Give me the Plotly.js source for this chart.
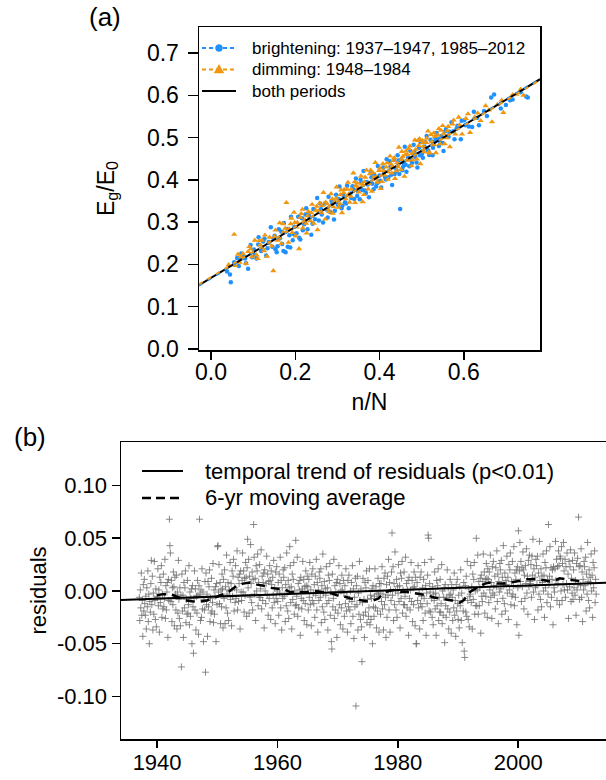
<!DOCTYPE html>
<html><head><meta charset="utf-8">
<script src="https://cdn.plot.ly/plotly-3.0.1.min.js"></script>
<style>html,body{margin:0;padding:0;background:#fff}#chart{width:606px;height:780px}</style>
</head><body><div id="chart"></div>
<script>
// ---------- panel (a): E_g/E_0 vs n/N ----------
const brightNN = [.038,.047,.055,.066,.072,.081,.088,.094,.102,.108,.113,.119,.124,.131,.137,.142,.146,.151,.156,.161,.164,.169,.173,.177,.181,.186,.19,.194,.198,.203,.207,.212,.216,.221,.226,.229,.234,.238,.243,.247,.252,.256,.261,.266,.27,.274,.279,.283,.288,.292,.297,.301,.305,.31,.314,.318,.323,.327,.331,.336,.34,.344,.349,.353,.357,.362,.366,.37,.375,.379,.383,.387,.392,.396,.4,.404,.409,.413,.417,.421,.426,.43,.434,.438,.443,.447,.449,.452,.456,.46,.464,.468,.473,.477,.481,.485,.49,.494,.498,.503,.507,.512,.516,.521,.526,.531,.536,.541,.547,.552,.558,.564,.571,.578,.585,.593,.601,.612,.624,.636,.648,.665,.672,.688,.71,.748,.752,.098,.127,.158,.182,.188,.209,.232,.259,.286,.312,.338,.355,.368,.381,.398,.411,.424,.436,.445,.458,.471,.483,.496,.509,.518,.533,.544,.556,.575,.595,.62,.062,.078,
  .105,.112,.134,.148,.153,.167,.172,.196,.218,.224,.241,.263,.277,.294,.303,.321,.333,.347,.359,.372,.386,.394,.402,.415,.428,.441,.454,.462,.476,.488,.501,.514,.527,.539,.55,.566,.583,.604,.632,.655,.7,.716,.735,.045,.069,.083];
const brightEg = [.183,.158,.205,.196,.226,.214,.190,.246,.235,.214,.264,.232,.254,.221,.253,.288,.242,.268,.229,.283,.262,.248,.298,.229,.284,.269,.313,.257,.289,.274,.313,.259,.309,.295,.333,.283,.312,.270,.331,.307,.357,.304,.331,.299,.344,.330,.360,.324,.344,.306,.365,.341,.384,.333,.364,.347,.386,.333,.368,.385,.355,.403,.373,.354,.393,.421,.375,.395,.359,.416,.391,.413,.384,.433,.410,.382,.429,.407,.449,.406,.431,.388,.447,.428,.458,.414,.331,.448,.431,.478,.419,.453,.469,.440,.483,.454,.429,.476,.489,.452,.478,.504,.468,.495,.458,.490,.511,.480,.504,.468,.520,.502,.536,.496,.528,.496,.541,.526,.561,.529,.563,.595,.602,.569,.588,.597,.595,.217,.261,.243,.242,.240,.263,.319,.344,.350,.339,.377,.400,.369,.406,.395,.419,.444,.414,.446,.439,.432,.466,.458,.489,.459,.498,.489,.515,.515,.540,.525,.215,.218,
  .222,.247,.238,.262,.236,.277,.232,.272,.281,.318,.296,.318,.311,.327,.355,.344,.357,.362,.376,.389,.378,.392,.398,.401,.412,.421,.423,.436,.447,.441,.462,.471,.476,.497,.487,.514,.521,.529,.547,.551,.577,.590,.607,.176,.214,.203];
const dimNN = [.042,.055,.068,.076,.083,.091,.097,.104,.111,.117,.122,.128,.133,.139,.144,.148,.153,.158,.163,.167,.172,.179,.184,.189,.193,.197,.201,.205,.209,.214,.218,.223,.227,.231,.236,.24,.244,.249,.253,.258,.262,.267,.271,.276,.28,.285,.289,.294,.298,.303,.307,.311,.316,.32,.325,.329,.333,.338,.342,.347,.351,.356,.36,.364,.369,.373,.377,.382,.386,.39,.395,.399,.403,.408,.412,.416,.42,.425,.429,.433,.437,.442,.446,.451,.455,.459,.463,.467,.472,.476,.48,.484,.489,.493,.497,.502,.506,.511,.515,.52,.524,.529,.534,.539,.544,.55,.555,.561,.567,.573,.58,.588,.596,.605,.615,.626,.64,.652,.667,.68,.694,.716,.735,.742,.255,.272,.291,.309,.327,.344,.363,.379,.393,.406,.418,.431,.44,.453,.466,.478,.491,.504,.517,.531,.546,.559,.229,.217,.199,.186,.171,.126,.115,.088,.064,
  .058,.071,.094,.108,.121,.136,.151,.162,.176,.191,.203,.212,.226,.238,.251,.264,.278,.288,.297,.306,.315,.323,.332,.341,.349,.358,.366,.375,.384,.392,.401,.409,.419,.427,.435,.444,.452,.461,.469,.477,.486,.495,.503,.512,.522,.53,.541,.552,.563,.576,.59,.61,.633,.66,.69,.725];
const dimEg = [.199,.271,.205,.225,.202,.242,.218,.257,.214,.246,.239,.269,.219,.264,.243,.185,.281,.257,.298,.249,.276,.346,.252,.296,.275,.323,.267,.299,.237,.320,.286,.305,.274,.325,.303,.342,.297,.328,.282,.345,.322,.370,.307,.343,.324,.367,.321,.349,.383,.335,.365,.322,.377,.355,.394,.347,.378,.416,.346,.392,.371,.409,.348,.395,.423,.378,.414,.373,.406,.441,.394,.422,.379,.438,.411,.430,.401,.456,.416,.446,.403,.440,.477,.424,.455,.408,.468,.446,.480,.433,.466,.494,.449,.481,.438,.493,.466,.488,.515,.463,.490,.511,.464,.506,.485,.528,.485,.516,.478,.532,.508,.548,.508,.545,.512,.548,.540,.575,.537,.578,.559,.601,.614,.600,.326,.347,.336,.376,.366,.386,.365,.423,.407,.396,.440,.432,.421,.467,.460,.447,.493,.479,.465,.503,.517,.499,.315,.330,.299,.284,.296,.232,.256,.230,.224,
  .197,.218,.236,.222,.257,.249,.266,.262,.285,.309,.288,.311,.297,.322,.337,.339,.331,.355,.356,.344,.369,.378,.361,.395,.382,.390,.406,.391,.417,.402,.428,.421,.419,.437,.452,.431,.448,.459,.474,.462,.472,.497,.488,.498,.507,.483,.521,.509,.526,.541,.530,.556,.558,.565,.588,.602];
// fitted regression lines (end points read at the panel edges)
const fitNN = [-0.0285, 0.781];
const fitBoth = [0.151, 0.638];
const fitBright = [0.150, 0.639];
const fitDim = [0.153, 0.636];
const legendA = ['brightening: 1937\u20131947, 1985\u20132012', 'dimming: 1948\u20131984', 'both periods'];

// ---------- panel (b): residuals vs time ----------
const resYears = [];
for (let y = 1937; y <= 2012; y++) resYears.push(y);
const monthMid = [0.5,1.5,2.5,3.5,4.5,5.5,6.5,7.5,8.5,9.5,10.5,11.5];
const residuals = [
[-.006,-.028,.001,-.016,.017,-.023,-.009,-.043,.006,-.019,.011,-.012],
[-.023,-.005,-.036,.003,-.015,.019,-.029,-.003,-.050,-.010,-.020,.007],
[.029,-.013,.014,-.037,-.002,-.022,.028,-.009,-.027,.002,-.034,-.005],
[-.006,.021,-.014,.001,-.039,.013,-.011,.008,.024,-.025,-.003,-.017],
[.016,-.015,-.007,.030,-.026,.005,-.018,-.001,.008,-.044,.011,-.009],
[.068,.043,.036,-.010,.010,-.029,.003,-.013,.018,.004,-.033,.013],
[-.003,-.018,.015,-.036,-.001,-.021,.029,-.008,-.026,.003,-.033,-.004],
[-.072,.016,-.019,-.004,-.044,.008,-.016,.003,.019,-.030,-.008,-.022],
[.010,-.021,-.013,.024,-.032,-.001,-.024,-.007,.002,-.050,.005,-.015],
[-.059,-.007,.019,-.018,.002,-.037,-.005,-.021,.010,-.004,-.041,.005],
[.068,-.003,-.028,.001,-.025,.021,-.017,-.001,-.048,-.008,-.018,.009],
[-.077,.017,-.013,-.003,-.043,.009,-.015,.004,.020,-.029,-.007,-.021],
[.012,-.019,-.011,.026,-.030,.001,-.022,-.005,.004,-.048,.007,-.013],
[.042,.043,-.001,.025,-.012,.008,-.031,.001,-.015,.016,.002,-.035],
[.011,-.007,.020,-.031,.004,-.016,.034,-.003,-.021,.008,-.028,.001],
[.000,.027,-.008,.007,-.033,.019,-.005,.014,.030,-.019,.003,-.011],
[.024,-.007,.001,.038,-.018,.013,-.010,.007,.016,-.036,.019,-.001],
[-.009,.010,.036,-.001,.019,-.020,.012,-.004,.027,.013,-.024,.022],
[.049,.003,.030,-.021,.014,-.006,.044,.007,-.011,.018,-.018,.011],
[.063,.032,-.003,.012,-.028,.024,.000,.019,.035,-.014,.008,-.006],
[.025,-.006,.002,.039,-.017,.014,-.009,.008,.017,-.035,.020,.000],
[-.012,.007,.033,-.004,.016,-.023,.009,-.007,.024,.010,-.027,.019],
[.006,-.016,.013,-.004,.029,-.011,.003,-.031,.018,-.007,.023,.000],
[-.010,.008,-.023,.016,-.002,.032,-.016,.010,-.037,.003,-.007,.020],
[.013,-.005,.022,-.029,.006,-.014,.036,-.001,-.019,.010,-.026,.003],
[.042,.024,-.011,.004,-.036,.016,-.008,.011,.027,-.022,.000,-.014],
[.048,-.013,-.005,.032,-.024,.007,-.016,.001,.010,-.042,.013,-.007],
[-.017,.002,.028,-.009,.011,-.028,.004,-.012,.019,.005,-.032,.014],
[.004,-.018,.011,-.006,.027,-.013,.001,-.033,.016,-.009,.021,-.002],
[-.012,.006,-.025,.014,-.004,.030,-.018,.008,-.039,.001,-.009,.018],
[.012,-.006,.021,-.030,.005,-.015,.035,-.002,-.020,.009,-.027,.002],
[-.004,.023,-.012,.003,-.037,.015,-.009,.010,.026,-.023,-.001,-.048],
[-.055,.016,-.015,-.007,.030,-.026,.005,-.018,-.001,.008,-.044,.011],
[-.021,-.002,.024,-.013,.007,-.032,.000,-.016,.015,.001,-.036,.010],
[-.002,-.024,.005,-.012,.021,-.019,-.005,-.039,.010,-.015,.015,-.008],
[-.018,.000,-.031,.008,-.010,.024,-.024,.002,-.045,-.006,-.015,.012],
[-.109,.005,-.013,.014,-.037,-.002,-.022,.028,-.009,-.027,.002,-.034],
[-.067,-.011,.012,-.023,-.008,-.044,.008,-.020,.003,.019,-.030,-.008],
[.010,-.024,-.016,.021,-.032,-.004,-.027,-.007,.002,-.050,.005,-.015],
[-.024,-.005,.021,-.016,.004,-.035,-.003,-.019,.012,-.002,-.039,.007],
[.000,-.022,.007,-.010,.023,-.017,-.003,-.037,.012,-.013,.017,-.006],
[-.044,.006,-.025,.014,-.004,.030,-.018,.008,-.039,.001,-.009,.018],
[.055,-.004,.023,-.028,.007,-.013,.037,.000,-.018,.011,-.025,.004],
[-.002,.025,-.010,.005,-.035,.017,-.007,.012,.028,-.021,.001,-.013],
[.018,-.013,-.005,.032,-.024,.007,-.016,.001,.010,-.042,.013,-.007],
[-.018,.001,.027,-.010,.010,-.029,.003,-.013,.018,.004,-.033,.013],
[-.050,-.050,.008,-.009,.024,-.016,-.002,-.036,.013,-.012,.018,-.005],
[-.015,.003,-.028,.011,-.007,.027,-.021,.005,-.042,-.002,-.012,.015],
[.053,.050,-.019,.007,-.001,-.020,.030,-.007,-.025,.004,-.032,-.003],
[-.009,.018,-.017,-.002,-.042,.010,-.014,.005,.021,-.028,-.006,-.020],
[.011,-.020,-.012,.025,-.031,.000,-.023,-.006,.003,-.049,.006,-.014],
[-.025,-.006,.020,-.017,.003,-.036,-.004,-.020,.011,-.003,-.040,.006],
[-.006,-.028,.001,-.016,.017,-.023,-.009,-.043,.006,-.019,.011,-.012],
[-.027,-.004,-.035,.004,-.014,.020,-.028,-.002,-.049,-.009,-.019,.008],
[-.057,-.063,.005,-.020,.014,-.024,.028,-.009,-.027,.002,-.034,-.005],
[-.003,.024,-.011,.004,-.036,.016,-.008,.011,.027,-.022,.000,-.014],
[.050,-.014,.001,.034,-.022,.009,-.014,.003,.012,-.040,.015,-.005],
[-.010,.009,.035,-.002,.018,-.021,.011,-.005,.026,.012,-.025,.021],
[.011,-.011,.018,.001,.034,-.006,.008,-.026,.023,-.002,.028,.005],
[-.004,.014,-.017,.022,.004,.038,-.010,.016,-.031,.009,-.001,.026],
[.020,.002,.029,-.022,.013,-.007,.043,.006,-.012,.017,-.019,.010],
[.006,.033,-.002,.013,-.027,.025,.001,.020,.036,-.013,.009,-.005],
[.028,-.003,.005,.042,-.014,.017,-.006,.011,.020,-.032,.023,.003],
[.057,-.042,.019,.046,.009,.028,-.010,.022,.004,.037,.020,-.017],
[.015,-.007,.024,.007,.040,-.002,.014,-.022,.029,.004,.034,.009],
[.007,.025,-.006,.033,.015,.049,-.001,.021,-.027,.013,.003,.030],
[.024,.006,.033,-.018,.017,-.003,.047,.010,-.008,.021,-.015,.014],
[.008,.035,.000,.015,-.025,.027,.003,.022,.038,-.011,.011,-.003],
[.063,.006,.014,.042,-.015,.022,-.006,.011,.020,-.032,.023,.003],
[-.001,.021,.047,.010,.030,-.009,.023,.007,.038,.024,-.013,.033],
[.031,.000,.042,-.009,.026,.006,.046,.019,.001,.030,-.006,.023],
[.007,.036,.001,.016,-.026,.028,.004,.023,.039,-.010,.012,-.002],
[.029,-.008,.020,.003,.036,-.004,.010,-.023,.026,.001,.031,.006],
[.070,.023,-.008,.024,.005,.040,-.006,.018,-.029,.011,.001,.028],
[.023,.005,.032,-.019,.016,-.003,.046,.009,-.009,.020,-.016,.013],
[.008,.035,.000,.015,-.025,.027,.003,.022,.038,-.011,.011,-.003]
];
const maYears = [1940.0,1941.0,1942.2,1943.5,1944.9,1946.0,1947.1,1948.3,1949.4,1950.5,1951.6,1952.3,1953.0,1954.3,1955.4,1956.6,1957.7,1958.8,1960.0,1961.0,1962.1,1963.3,1964.9,1966.2,1967.6,1968.8,1969.9,1971.0,1972.1,1973.2,1974.3,1975.1,1975.9,1976.8,1977.6,1978.5,1979.3,1980.4,1981.5,1982.6,1983.7,1984.8,1985.9,1987.0,1988.1,1989.0,1989.8,1990.3,1990.9,1991.4,1992.0,1992.8,1993.7,1994.5,1995.3,1996.4,1997.5,1998.7,1999.8,2000.6,2001.4,2002.5,2003.6,2004.5,2005.3,2006.1,2006.9,2008.0,2009.2,2010.0,2010.8];
const maValues = [-0.004,-0.003,-0.003,-0.006,-0.009,-0.010,-0.010,-0.009,-0.007,-0.004,-0.002,0.001,0.004,0.007,0.008,0.006,0.005,0.003,0.002,0.002,-0.001,-0.001,-0.001,0.000,-0.001,-0.002,-0.004,-0.005,-0.007,-0.008,-0.009,-0.010,-0.009,-0.007,-0.002,0.000,0.001,-0.001,-0.001,-0.002,-0.003,-0.004,-0.006,-0.007,-0.008,-0.009,-0.011,-0.011,-0.009,-0.005,-0.001,0.002,0.005,0.007,0.008,0.007,0.007,0.008,0.009,0.010,0.011,0.011,0.011,0.010,0.009,0.010,0.012,0.011,0.010,0.009,0.009];
const trendYears = [1934.0, 2014.6];
const trendValues = [-0.0085, 0.0079];
const legendB = ['temporal trend of residuals (p<0.01)', '6-yr moving average'];

const resX = [], resY = [];
resYears.forEach((yr, i) => residuals[i].forEach((v, m) => { resX.push(yr + monthMid[m] / 12); resY.push(v); }));

const FONT = 'Liberation Sans, Arial, Helvetica, sans-serif';
const BLUE = '#1E90FF', ORANGE = '#F0960F';
const W = 606, H = 780;
const px = v => v / W, py = v => 1 - v / H;

const traces = [
  {x: brightNN, y: brightEg, mode: 'markers', type: 'scatter',
   marker: {color: BLUE, size: 4.5, symbol: 'circle'}, xaxis: 'x', yaxis: 'y'},
  {x: dimNN, y: dimEg, mode: 'markers', type: 'scatter',
   marker: {color: ORANGE, size: 5.5, symbol: 'triangle-up'}, xaxis: 'x', yaxis: 'y'},
  {x: fitNN, y: fitBoth, mode: 'lines', line: {color: '#000', width: 2}, xaxis: 'x', yaxis: 'y'},
  {x: fitNN, y: fitBright, mode: 'lines', line: {color: BLUE, width: 2, dash: '4px,6px'}, xaxis: 'x', yaxis: 'y'},
  {x: fitNN, y: fitDim, mode: 'lines', line: {color: ORANGE, width: 2, dash: '4px,6px'}, xaxis: 'x', yaxis: 'y'},
  {x: resX, y: resY, mode: 'markers', type: 'scatter',
   marker: {symbol: 'cross-thin-open', size: 5, color: 'rgba(110,110,110,0.8)', line: {width: 1, color: 'rgba(110,110,110,0.8)'}},
   xaxis: 'x2', yaxis: 'y2'},
  {x: trendYears, y: trendValues, mode: 'lines', line: {color: '#000', width: 2}, xaxis: 'x2', yaxis: 'y2'},
  {x: maYears, y: maValues, mode: 'lines', line: {color: '#000', width: 2.5, dash: '9px,6px'}, xaxis: 'x2', yaxis: 'y2'}
];

const axBase = {showline: true, linecolor: '#000', linewidth: 1.5, tickcolor: '#000',
  tickwidth: 1.5, showgrid: false, zeroline: false};

// hand-drawn legend keys (paper coordinates)
const shapes = [
  {type: 'line', xref: 'paper', yref: 'paper', x0: px(202), x1: px(236), y0: py(48), y1: py(48), line: {color: BLUE, width: 2, dash: '4px,3px'}},
  {type: 'circle', xref: 'paper', yref: 'paper', x0: px(215.5), x1: px(222.5), y0: py(51.5), y1: py(44.5), fillcolor: BLUE, line: {color: BLUE, width: 0.5}},
  {type: 'line', xref: 'paper', yref: 'paper', x0: px(202), x1: px(236), y0: py(69.5), y1: py(69.5), line: {color: ORANGE, width: 2, dash: '4px,3px'}},
  {type: 'path', xref: 'paper', yref: 'paper', path: `M ${px(219)} ${py(64.5)} L ${px(223.8)} ${py(73)} L ${px(214.2)} ${py(73)} Z`, fillcolor: ORANGE, line: {color: ORANGE, width: 0.5}},
  {type: 'line', xref: 'paper', yref: 'paper', x0: px(202), x1: px(236), y0: py(91), y1: py(91), line: {color: '#000', width: 2}},
  {type: 'line', xref: 'paper', yref: 'paper', x0: px(142), x1: px(183), y0: py(471), y1: py(471), line: {color: '#000', width: 1.8}},
  {type: 'line', xref: 'paper', yref: 'paper', x0: px(142), x1: px(183), y0: py(498), y1: py(498), line: {color: '#000', width: 2.5, dash: '9px,5px'}}
];

const ann = (text, x, y, size, xanchor) => ({text, xref: 'paper', yref: 'paper', x: px(x), y: py(y), showarrow: false,
  font: {family: FONT, size, color: '#000'}, xanchor: xanchor || 'left', yanchor: 'middle'});

const layout = {
  width: W, height: H, margin: {l: 0, r: 0, t: 0, b: 0},
  paper_bgcolor: '#fff', plot_bgcolor: '#fff', showlegend: false,
  font: {family: FONT, color: '#000'},
  // panel (a) axes: labels on x / y, tick marks on overlay axis x3
  xaxis: Object.assign({}, axBase, {domain: [px(199), px(540)], range: [-0.0285, 0.781], anchor: 'y',
    tickvals: [0, 0.2, 0.4, 0.6], tickformat: '.1f', ticks: '', mirror: true, ticklabelstandoff: 1,
    tickfont: {family: FONT, size: 23, color: '#000'},
    title: {text: 'n/N', font: {family: FONT, size: 23}, standoff: 10}}),
  xaxis3: {overlaying: 'x', anchor: 'y', range: [-0.0285, 0.781], domain: [px(199), px(540)],
    tickvals: [0, 0.2, 0.4, 0.6], ticks: 'outside', ticklen: 9, tickwidth: 1.5, tickcolor: '#000',
    showticklabels: false, showline: false, showgrid: false, zeroline: false},
  yaxis: Object.assign({}, axBase, {domain: [py(350), py(27)], range: [-0.0024, 0.7615], anchor: 'x',
    tickvals: [0, 0.1, 0.2, 0.3, 0.4, 0.5, 0.6, 0.7], tickformat: '.1f', ticks: 'outside', ticklen: 10, mirror: true, ticklabelstandoff: 4,
    tickfont: {family: FONT, size: 23, color: '#000'},
    title: {text: 'E<sub>g</sub>/E<sub>0</sub>', font: {family: FONT, size: 23}, standoff: 26}}),
  // panel (b) axes: labels on x2, tick marks on overlay axis x4
  xaxis2: Object.assign({}, axBase, {domain: [px(121), 1], range: [1934.0, 2014.6], anchor: 'y2',
    tickvals: [1940, 1960, 1980, 2000], ticks: '', mirror: true, ticklabelstandoff: 3,
    tickfont: {family: FONT, size: 22, color: '#000'}}),
  xaxis4: {overlaying: 'x2', anchor: 'y2', range: [1934.0, 2014.6], domain: [px(121), 1],
    tickvals: [1940, 1960, 1980, 2000], ticks: 'outside', ticklen: 8, tickwidth: 1.5, tickcolor: '#000',
    showticklabels: false, showline: false, showgrid: false, zeroline: false},
  yaxis2: Object.assign({}, axBase, {domain: [py(739), py(442)], range: [-0.1403, 0.1412], anchor: 'x2',
    tickvals: [-0.10, -0.05, 0, 0.05, 0.10], ticktext: ['-0.10', '-0.05', '0.00', '0.05', '0.10'], ticks: 'outside', ticklen: 8, mirror: false,
    tickfont: {family: FONT, size: 22, color: '#000'},
    title: {text: 'residuals', font: {family: FONT, size: 22}, standoff: 4}}),
  shapes,
  annotations: [
    ann('(a)', 105, 17, 26, 'center'),
    ann('(b)', 30, 437, 26, 'center'),
    ann(legendA[0], 250, 48, 17), ann(legendA[1], 250, 69.5, 17), ann(legendA[2], 250, 91, 17),
    ann(legendB[0], 203, 471, 22), ann(legendB[1], 203, 498, 22)
  ]
};

// overlay axes need at least one trace each to be drawn
traces.push({x: [null], y: [null], mode: 'markers', xaxis: 'x3', yaxis: 'y', hoverinfo: 'skip'});
traces.push({x: [null], y: [null], mode: 'markers', xaxis: 'x4', yaxis: 'y2', hoverinfo: 'skip'});

Plotly.newPlot('chart', traces, layout, {displayModeBar: false, staticPlot: true});
</script></body></html>
